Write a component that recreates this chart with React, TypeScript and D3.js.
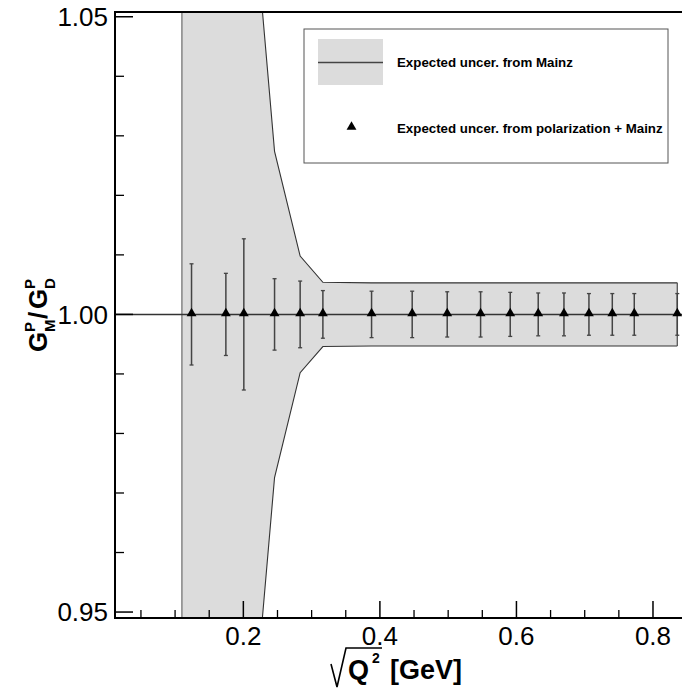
import React from "react";
import * as d3 from "d3";

// Expected uncertainty from Mainz (band half-width around 1.00)
const bandX = [0.11, 0.1241, 0.1744, 0.2007, 0.2457, 0.2832, 0.3165, 0.3878, 0.4473, 0.4986, 0.5475, 0.5909, 0.6319, 0.6696, 0.7062, 0.7404, 0.7726, 0.8356];
const bandHalf = [0.5, 0.35, 0.15, 0.087, 0.0274, 0.0098, 0.0054, 0.0053, 0.0053, 0.0053, 0.0053, 0.0053, 0.0053, 0.0053, 0.0053, 0.0053, 0.0053, 0.0053];

// Expected uncertainty from polarization + Mainz (points)
const pointX = [0.1241, 0.1744, 0.2007, 0.2457, 0.2832, 0.3165, 0.3878, 0.4473, 0.4986, 0.5475, 0.5909, 0.6319, 0.6696, 0.7062, 0.7404, 0.7726, 0.8356];
const pointY = [1, 1, 1, 1, 1, 1, 1, 1, 1, 1, 1, 1, 1, 1, 1, 1, 1];
const pointErr = [0.0085, 0.0069, 0.0127, 0.006, 0.0056, 0.004, 0.0039, 0.0039, 0.0038, 0.0038, 0.0037, 0.0036, 0.0036, 0.0035, 0.0035, 0.0035, 0.0035];

const xMajorTicks = [0.2, 0.4, 0.6, 0.8];
const xMinorTicks = [0.05, 0.1, 0.15, 0.25, 0.3, 0.35, 0.45, 0.5, 0.55, 0.65, 0.7, 0.75];
const yMajorTicks = [0.95, 1.0, 1.05];
const yMinorTicks = [0.96, 0.97, 0.98, 0.99, 1.01, 1.02, 1.03, 1.04];

const legendLabels = ["Expected uncer. from Mainz", "Expected uncer. from polarization + Mainz"];

const W = 682, H = 690;
const L = 115, R = 682, T = 12, B = 618;

export default function App() {
  const x = d3.scaleLinear().domain([0.012, 0.8425]).range([L, R]);
  const y = d3.scaleLinear().domain([0.949, 1.0508]).range([B, T]);

  const bandData = bandX.map((v, i) => ({ x: v, h: bandHalf[i] }));
  const area = d3.area<{ x: number; h: number }>()
    .x((d) => x(d.x))
    .y0((d) => y(1 - d.h))
    .y1((d) => y(1 + d.h));
  const upper = d3.line<{ x: number; h: number }>().x((d) => x(d.x)).y((d) => y(1 + d.h));
  const lower = d3.line<{ x: number; h: number }>().x((d) => x(d.x)).y((d) => y(1 - d.h));
  const tri = d3.symbol().type(d3.symbolTriangle).size(42);

  const font = "'Liberation Sans', Arial, Helvetica, sans-serif";
  const first = bandData[0];
  const last = bandData[bandData.length - 1];

  return (
    <svg width={W} height={H} style={{ position: "absolute", left: 0, top: 0, background: "#fff" }} fontFamily={font}>
      <defs>
        <clipPath id="plotclip">
          <rect x={L} y={T} width={R - L + 5} height={B - T} />
        </clipPath>
      </defs>
      <g clipPath="url(#plotclip)">
        <path d={area(bandData) || ""} fill="#dcdcdc" stroke="none" />
        <path d={upper(bandData) || ""} fill="none" stroke="#333" strokeWidth={1.1} />
        <path d={lower(bandData) || ""} fill="none" stroke="#333" strokeWidth={1.1} />
        <line x1={x(first.x)} x2={x(first.x)} y1={y(1 + first.h)} y2={y(1 - first.h)} stroke="#8a8a8a" strokeWidth={1.6} />
        <line x1={x(last.x)} x2={x(last.x)} y1={y(1 + last.h)} y2={y(1 - last.h)} stroke="#555" strokeWidth={1.3} />
        <line x1={L} x2={R} y1={y(1)} y2={y(1)} stroke="#333" strokeWidth={1.5} />
        {pointX.map((px, i) => {
          const cx = x(px);
          const y1 = y(pointY[i] + pointErr[i]);
          const y2 = y(pointY[i] - pointErr[i]);
          return (
            <g key={i}>
              <line x1={cx} x2={cx} y1={y1} y2={y2} stroke="#444" strokeWidth={1.5} />
              <line x1={cx - 2} x2={cx + 2} y1={y1} y2={y1} stroke="#444" strokeWidth={1.3} />
              <line x1={cx - 2} x2={cx + 2} y1={y2} y2={y2} stroke="#444" strokeWidth={1.3} />
              <path d={tri() || ""} transform={`translate(${cx},${y(pointY[i]) - 1})`} fill="#000" />
            </g>
          );
        })}
      </g>

      {/* frame */}
      <line x1={L} x2={W} y1={T} y2={T} stroke="#000" strokeWidth={2} />
      <line x1={L} x2={L} y1={T - 1} y2={B + 1} stroke="#000" strokeWidth={2} />
      <line x1={L} x2={W} y1={B} y2={B} stroke="#000" strokeWidth={2} />

      {/* y ticks */}
      {yMajorTicks.map((t) => (
        <g key={"ym" + t}>
          <line x1={L} x2={L + 18} y1={y(t)} y2={y(t)} stroke="#000" strokeWidth={1.5} />
          <text x={L - 7} y={y(t)} dy="0.36em" textAnchor="end" fontSize={26} fill="#000">{d3.format(".2f")(t)}</text>
        </g>
      ))}
      {yMinorTicks.map((t) => (
        <line key={"yn" + t} x1={L} x2={L + 9} y1={y(t)} y2={y(t)} stroke="#000" strokeWidth={1.3} />
      ))}

      {/* x ticks */}
      {xMajorTicks.map((t) => (
        <g key={"xm" + t}>
          <line x1={x(t)} x2={x(t)} y1={B} y2={B - 17} stroke="#000" strokeWidth={1.5} />
          <text x={x(t)} y={645} textAnchor="middle" fontSize={26} fill="#000">{d3.format(".1f")(t)}</text>
        </g>
      ))}
      {xMinorTicks.map((t) => (
        <line key={"xn" + t} x1={x(t)} x2={x(t)} y1={B} y2={B - 8} stroke="#000" strokeWidth={1.3} />
      ))}

      {/* x title */}
      <path d="M 331 664 L 337 687 L 346 648 L 382 648" fill="none" stroke="#000" strokeWidth={1.6} />
      <text x={348} y={679} fontSize={27} fontWeight="bold" fill="#000">Q</text>
      <text x={372} y={663} fontSize={14} fontWeight="bold" fill="#000">2</text>
      <text x={390} y={679} fontSize={27} fontWeight="bold" fill="#000">[GeV]</text>

      {/* y title */}
      <g transform="translate(47,315) rotate(-90)" fontWeight="bold" fill="#000">
        <text x={-37} y={0} fontSize={26}>G</text>
        <text x={-17} y={-12} fontSize={15}>P</text>
        <text x={-17} y={8} fontSize={15}>M</text>
        <text x={-4} y={0} fontSize={26}>/</text>
        <text x={6} y={0} fontSize={26}>G</text>
        <text x={26} y={-12} fontSize={15}>P</text>
        <text x={26} y={8} fontSize={15}>D</text>
      </g>

      {/* legend */}
      <rect x={304} y={29} width={364} height={134} fill="#fff" stroke="#555" strokeWidth={1} />
      <rect x={318} y={39} width={65} height={46} fill="#dcdcdc" />
      <line x1={318} x2={383} y1={62.5} y2={62.5} stroke="#444" strokeWidth={1.5} />
      <text x={397} y={67} fontSize={13.3} fontWeight="bold" fill="#000">{legendLabels[0]}</text>
      <path d={tri() || ""} transform="translate(351.5,127)" fill="#000" />
      <text x={397} y={132.5} fontSize={13.3} fontWeight="bold" fill="#000">{legendLabels[1]}</text>
    </svg>
  );
}
